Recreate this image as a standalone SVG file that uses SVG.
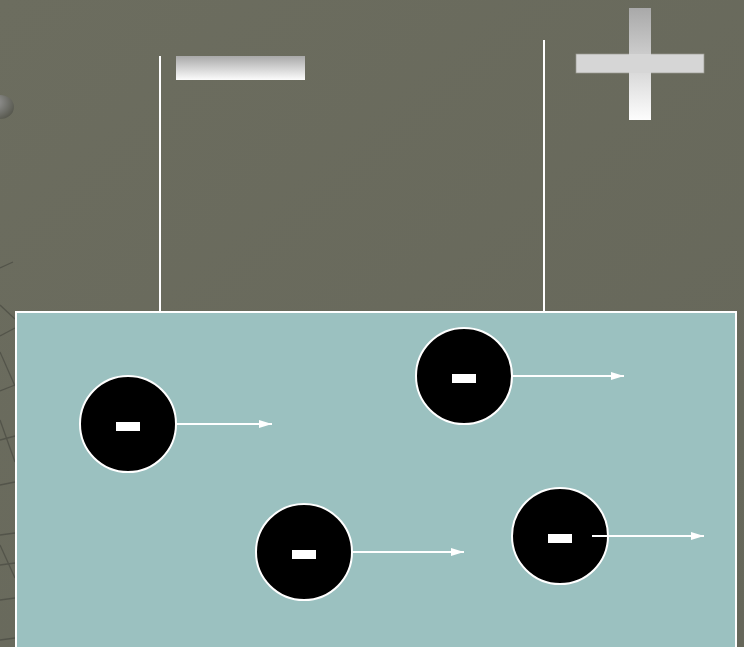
<svg xmlns="http://www.w3.org/2000/svg" width="744" height="647" viewBox="0 0 744 647">
  <defs>
    <linearGradient id="bg" x1="0" y1="0" x2="1" y2="1">
      <stop offset="0" stop-color="#6c6d5f"/>
      <stop offset="1" stop-color="#66675a"/>
    </linearGradient>
    <linearGradient id="metal" x1="0" y1="0" x2="0" y2="1">
      <stop offset="0" stop-color="#a9a9a9"/>
      <stop offset="1" stop-color="#fcfcfc"/>
    </linearGradient>
    <linearGradient id="plusV" x1="0" y1="0" x2="0" y2="1">
      <stop offset="0" stop-color="#a9a9a9"/>
      <stop offset="1" stop-color="#fdfdfd"/>
    </linearGradient>
    <radialGradient id="blob" cx="0.3" cy="0.3" r="0.8">
      <stop offset="0" stop-color="#9a9a9a"/>
      <stop offset="1" stop-color="#55564c"/>
    </radialGradient>
    <marker id="arr" markerWidth="13" markerHeight="8" refX="13" refY="4" orient="auto" markerUnits="userSpaceOnUse">
      <path d="M0,0 L13,4 L0,8 Z" fill="#ffffff"/>
    </marker>
    <style>
      .wire { stroke: #ffffff; stroke-width: 2; }
      .deco { stroke: #53544a; stroke-width: 1.3; fill: none; }
      .ion circle { fill: #000000; stroke: #ffffff; stroke-width: 2; }
      .ion rect { fill: #ffffff; }
      .flow { stroke: #ffffff; stroke-width: 2; fill: none; marker-end: url(#arr); }
    </style>
  </defs>

  <rect x="0" y="0" width="744" height="647" fill="url(#bg)"/>

  <g id="decoration">
    <ellipse cx="0" cy="107" rx="14" ry="12" fill="url(#blob)"/>
    <line class="deco" x1="0" y1="268" x2="13" y2="262"/>
    <line class="deco" x1="0" y1="305" x2="15" y2="319"/>
    <line class="deco" x1="0" y1="336" x2="15" y2="328"/>
    <line class="deco" x1="0" y1="352" x2="15" y2="386"/>
    <line class="deco" x1="0" y1="391" x2="15" y2="385"/>
    <line class="deco" x1="0" y1="420" x2="15" y2="462"/>
    <line class="deco" x1="0" y1="440" x2="15" y2="436"/>
    <line class="deco" x1="0" y1="485" x2="15" y2="482"/>
    <line class="deco" x1="0" y1="535" x2="15" y2="533"/>
    <line class="deco" x1="0" y1="545" x2="15" y2="578"/>
    <line class="deco" x1="0" y1="565" x2="15" y2="563"/>
    <line class="deco" x1="0" y1="600" x2="15" y2="598"/>
    <line class="deco" x1="0" y1="640" x2="15" y2="638"/>
  </g>

  <g id="electrodes">
    <line class="wire" x1="160" y1="56" x2="160" y2="312"/>
    <line class="wire" x1="544" y1="40" x2="544" y2="312"/>
  </g>

  <g id="minus-terminal">
    <rect x="176" y="56" width="129" height="24" fill="url(#metal)"/>
  </g>

  <g id="plus-terminal">
    <rect x="576" y="54" width="128" height="19" fill="#d6d6d6" stroke="#9a9a92" stroke-width="0.7"/>
    <rect x="629" y="8" width="22" height="112" fill="url(#plusV)"/>
    <rect x="629" y="54" width="22" height="19" fill="#d6d6d6"/>
  </g>

  <g id="electrolyte">
    <rect x="16" y="312" width="720" height="340" fill="#9bc1c0" stroke="#ffffff" stroke-width="2"/>
  </g>

  <g id="connectors">
    <line class="flow" x1="176" y1="424" x2="272" y2="424"/>
    <line class="flow" x1="512" y1="376" x2="624" y2="376"/>
    <line class="flow" x1="352" y1="552" x2="464" y2="552"/>
  </g>

  <g id="ion1" class="ion">
    <circle cx="128" cy="424" r="48"/>
    <rect x="116" y="422" width="24" height="9"/>
  </g>
  <g id="ion2" class="ion">
    <circle cx="464" cy="376" r="48"/>
    <rect x="452" y="374" width="24" height="9"/>
  </g>
  <g id="ion3" class="ion">
    <circle cx="304" cy="552" r="48"/>
    <rect x="292" y="550" width="24" height="9"/>
  </g>
  <g id="ion4" class="ion">
    <circle cx="560" cy="536" r="48"/>
    <rect x="548" y="534" width="24" height="9"/>
  </g>

  <g id="connectors-front">
    <line class="flow" x1="592" y1="536" x2="704" y2="536"/>
  </g>
</svg>
